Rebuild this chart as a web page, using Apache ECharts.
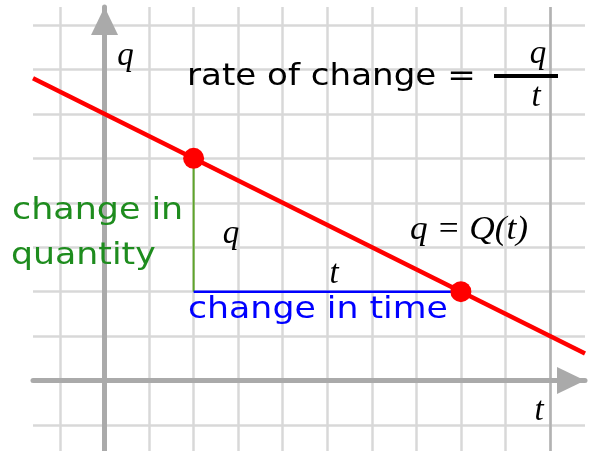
<!DOCTYPE html>
<html><head><meta charset="utf-8">
<script src="https://cdn.jsdelivr.net/npm/echarts@6/dist/echarts.min.js"></script>
<style>html,body{margin:0;padding:0;background:#fff}#c{width:590px;height:451px}</style>
</head><body><div id="c"></div>
<script>
// axis extents (data units)
const tRange = [-1.606, 10.786];
const qRange = [-1.585, 8.405];
// the two marked points on Q(t)
const pointT = [2, 8];
const pointQ = [5, 2];
// darker vertical reference line
const edgeLineT = [10];

const slope = (pointQ[1] - pointQ[0]) / (pointT[1] - pointT[0]);
const lineAt = t => pointQ[0] + slope * (t - pointT[0]);
const lineData = [[tRange[0], lineAt(tRange[0])], [tRange[1], lineAt(tRange[1])]];
const changeQData = [[pointT[0], pointQ[0]], [pointT[0], pointQ[1]]];
const changeTData = [[pointT[0], pointQ[1]], [pointT[1], pointQ[1]]];
const dots = pointT.map((t, i) => [t, pointQ[i]]);

const SANS = '"DejaVu Sans", Verdana, sans-serif';
const SERIF = '"Liberation Serif", "Times New Roman", serif';

function txt(text, x, y, opts) {
  opts = opts || {};
  const size = opts.size || 31;
  const font = (opts.italic ? 'italic ' : '') + size + 'px ' + (opts.serif ? SERIF : SANS);
  return {
    type: 'text', x: x, y: y, scaleX: opts.sx || 1, silent: true, z: 100,
    style: {
      text: text, font: font, fill: opts.color || '#000',
      align: opts.align || 'left', textAlign: opts.align || 'left',
      verticalAlign: 'middle', textVerticalAlign: 'middle'
    }
  };
}

const gridLine = {show: true, showMinLine: false, showMaxLine: false, lineStyle: {color: '#d8d8d8', width: 2.5}};
const axisLineStyle = {color: '#aaaaaa', width: 5};

const chart = echarts.init(document.getElementById('c'), null, {renderer: 'canvas'});
chart.setOption({
  animation: false,
  backgroundColor: '#fff',
  grid: {left: 33, right: 5, top: 7, bottom: 0, containLabel: false},
  xAxis: [
    {type: 'value', min: tRange[0], max: tRange[1], minInterval: 1, maxInterval: 1, z: 0,
     axisLine: {show: false, onZero: false}, axisTick: {show: false}, axisLabel: {show: false}, splitLine: gridLine},
    {type: 'value', min: tRange[0], max: tRange[1], minInterval: 1, maxInterval: 1, z: 5,
     axisLine: {show: true, onZero: true, onZeroAxisIndex: 1, lineStyle: axisLineStyle,
       symbol: ['none', 'triangle'], symbolSize: [27, 28], symbolOffset: [0, -14]},
     axisTick: {show: false}, axisLabel: {show: false}, splitLine: {show: false}}
  ],
  yAxis: [
    {type: 'value', min: qRange[0], max: qRange[1], minInterval: 1, maxInterval: 1, z: 0,
     axisLine: {show: false, onZero: false}, axisTick: {show: false}, axisLabel: {show: false}, splitLine: gridLine},
    {type: 'value', min: qRange[0], max: qRange[1], minInterval: 1, maxInterval: 1, z: 5,
     axisLine: {show: true, onZero: true, onZeroAxisIndex: 1, lineStyle: axisLineStyle,
       symbol: ['none', 'triangle'], symbolSize: [27, 28], symbolOffset: [0, -14]},
     axisTick: {show: false}, axisLabel: {show: false}, splitLine: {show: false}}
  ],
  series: [
    {type: 'line', data: [], xAxisIndex: 0, yAxisIndex: 0, z: 1, silent: true,
     markLine: {silent: true, symbol: ['none', 'none'], label: {show: false},
       lineStyle: {color: '#b2b2b2', width: 2.5, type: 'solid'},
       data: edgeLineT.map(v => ({xAxis: v}))}},
    {type: 'line', data: changeQData, xAxisIndex: 0, yAxisIndex: 0, z: 6, symbol: 'none', silent: true,
     lineStyle: {color: '#5fa52a', width: 2}},
    {type: 'line', data: changeTData, xAxisIndex: 0, yAxisIndex: 0, z: 6, symbol: 'none', silent: true,
     lineStyle: {color: '#0000ff', width: 2.5}},
    {type: 'line', data: lineData, xAxisIndex: 0, yAxisIndex: 0, z: 7, symbol: 'none', silent: true,
     lineStyle: {color: '#ff0000', width: 4.5}},
    {type: 'scatter', data: dots, xAxisIndex: 0, yAxisIndex: 0, z: 8, symbolSize: 21, silent: true,
     itemStyle: {color: '#ff0000', opacity: 1}}
  ],
  graphic: [
    txt('rate of change =', 187, 77, {sx: 1.10}),
    txt('q', 125.5, 56, {serif: true, italic: true, size: 33, align: 'center'}),
    txt('q', 538, 54, {serif: true, italic: true, size: 33, align: 'center'}),
    txt('t', 536, 97, {serif: true, italic: true, size: 33, align: 'center'}),
    {type: 'line', silent: true, z: 100, shape: {x1: 494, y1: 76, x2: 558, y2: 76}, style: {stroke: '#000', lineWidth: 4}},
    txt('change in', 12, 211, {color: '#1e8c1e', sx: 1.125}),
    txt('quantity', 11, 256, {color: '#1e8c1e', sx: 1.12}),
    txt('q', 231, 234, {serif: true, italic: true, size: 33, align: 'center'}),
    txt('q = Q(t)', 410, 230, {serif: true, italic: true, size: 33, sx: 1.07}),
    txt('t', 334, 274, {serif: true, italic: true, size: 33, align: 'center'}),
    txt('change in time', 188, 310, {color: '#0000ff', sx: 1.12}),
    txt('t', 539, 411, {serif: true, italic: true, size: 33, align: 'center'})
  ]
});
</script></body></html>
